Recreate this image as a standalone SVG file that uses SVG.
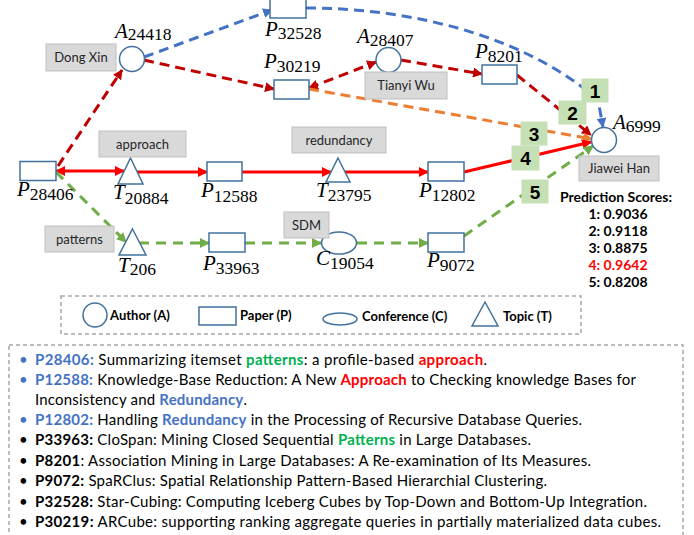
<svg xmlns="http://www.w3.org/2000/svg" width="694" height="535" viewBox="0 0 694 535">
<style>
.node{fill:#fff;stroke:#41719c;stroke-width:1.5}
.tag{fill:#d9d9d9;stroke:#bfbfbf;stroke-width:1}
.tagt{font-family:Lato,"Liberation Sans",sans-serif;font-size:13px;fill:#262626;text-anchor:middle}
.num{fill:#c5e0b4;stroke:#c5e0b4}
.numt{font-family:"Liberation Sans",Arial,sans-serif;font-weight:bold;font-size:19px;fill:#000;text-anchor:middle}
.lbl{font-family:"Liberation Serif","Times New Roman",serif;font-size:21px;fill:#000}
.it{font-style:italic}
.sub{font-size:17.5px}
.e{fill:none;stroke-width:3}
.rd{stroke:#c00000;stroke-dasharray:10,6}
.rs{stroke:#ff0000}
.bd{stroke:#4472c4;stroke-dasharray:10,6}
.od{stroke:#ed7d31;stroke-dasharray:10,6}
.gd{stroke:#70ad47;stroke-dasharray:10,7}
.leg{font-family:Lato,"Liberation Sans",sans-serif;font-weight:bold;font-size:13px;fill:#000}
.ps{font-family:Lato,"Liberation Sans",sans-serif;font-weight:bold;font-size:14px;fill:#000;text-anchor:middle}
.box{fill:none;stroke:#a6a6a6;stroke-width:1.5;stroke-dasharray:4,3}
.tx{font-family:Lato,"Liberation Sans",sans-serif;font-size:15px;fill:#000}
.b{font-weight:bold}
.bl{fill:#4472c4;font-weight:bold}
.gr{fill:#00b050;font-weight:bold}
.re{fill:#ff0000;font-weight:bold}
</style>
<defs>
<marker id="mrd" viewBox="0 0 10 10" refX="9" refY="5" markerWidth="10" markerHeight="10" markerUnits="userSpaceOnUse" orient="auto-start-reverse"><path d="M0,0 L10,5 L0,10 z" fill="#c00000"/></marker>
<marker id="mrs" viewBox="0 0 10 10" refX="9" refY="5" markerWidth="10" markerHeight="10" markerUnits="userSpaceOnUse" orient="auto-start-reverse"><path d="M0,0 L10,5 L0,10 z" fill="#ff0000"/></marker>
<marker id="mbd" viewBox="0 0 10 10" refX="9" refY="5" markerWidth="10" markerHeight="10" markerUnits="userSpaceOnUse" orient="auto"><path d="M0,0 L10,5 L0,10 z" fill="#4472c4"/></marker>
<marker id="mod" viewBox="0 0 10 10" refX="9" refY="5" markerWidth="10" markerHeight="10" markerUnits="userSpaceOnUse" orient="auto"><path d="M0,0 L10,5 L0,10 z" fill="#ed7d31"/></marker>
<marker id="mgd" viewBox="0 0 10 10" refX="9" refY="5" markerWidth="10" markerHeight="10" markerUnits="userSpaceOnUse" orient="auto"><path d="M0,0 L10,5 L0,10 z" fill="#70ad47"/></marker>
</defs>
<rect width="694" height="535" fill="#fff"/>

<g id="connectors">
<path class="e rd" d="M58,166 L122,70" marker-end="url(#mrd)"/>
<path class="e bd" d="M144,57 L272,10" marker-end="url(#mbd)"/>
<path class="e rd" d="M144,60 L274,89" marker-end="url(#mrd)"/>
<path class="e rd" d="M309,88 L376,62" marker-start="url(#mrd)" marker-end="url(#mrd)"/>
<path class="e rd" d="M401,60 L482,74" marker-end="url(#mrd)"/>
<path class="e rd" d="M517,75 L591,135" marker-end="url(#mrd)"/>
<path class="e od" d="M309,89 L592,139" marker-end="url(#mod)"/>
<path class="e bd" d="M306,8 C420,8 530,40 598,100 L603,127" marker-end="url(#mbd)"/>
<path class="e rs" d="M56,171 L124,171" marker-start="url(#mrs)" marker-end="url(#mrs)"/>
<path class="e rs" d="M137,172 L207,172" marker-end="url(#mrs)"/>
<path class="e rs" d="M242,172 L331,172" marker-end="url(#mrs)"/>
<path class="e rs" d="M345,172 L428,172" marker-end="url(#mrs)"/>
<path class="e rs" d="M464,172 L591,142" marker-end="url(#mrs)"/>
<path class="e gd" d="M56,172 L126,242" marker-end="url(#mgd)"/>
<path class="e gd" d="M139,243 L209,243" marker-end="url(#mgd)"/>
<path class="e gd" d="M245,243 L321,243" marker-end="url(#mgd)"/>
<path class="e gd" d="M357,243 L428,243" marker-end="url(#mgd)"/>
<path class="e gd" d="M464,236 L593,146" marker-end="url(#mgd)"/>
</g>

<g id="scores-boxes">
<rect class="num" x="582" y="79" width="26" height="23"/><text class="numt" x="595" y="98">1</text>
<rect class="num" x="559" y="101" width="27" height="23"/><text class="numt" x="572.5" y="120">2</text>
<rect class="num" x="521" y="122" width="26" height="23"/><text class="numt" x="534" y="141">3</text>
<rect class="num" x="512" y="146" width="27" height="24"/><text class="numt" x="525.5" y="165">4</text>
<rect class="num" x="522" y="180" width="26" height="23"/><text class="numt" x="535" y="199">5</text>
</g>

<g id="A24418"><circle class="node" cx="132" cy="59" r="12.5"/><text class="lbl" x="115" y="38"><tspan class="it">A</tspan><tspan class="sub" dy="2">24418</tspan></text>
<rect class="tag" x="46" y="44" width="70" height="27"/><text class="tagt" x="81" y="62">Dong Xin</text></g>
<g id="P32528"><rect class="node" x="270" y="-1" width="36" height="19"/><text class="lbl" x="265" y="36"><tspan class="it">P</tspan><tspan class="sub" dy="3">32528</tspan></text></g>
<g id="P30219"><rect class="node" x="274" y="80" width="35" height="19"/><text class="lbl" x="264" y="68"><tspan class="it">P</tspan><tspan class="sub" dy="4">30219</tspan></text></g>
<g id="A28407"><circle class="node" cx="388.5" cy="60" r="12.5"/><text class="lbl" x="357" y="43"><tspan class="it">A</tspan><tspan class="sub" dy="3">28407</tspan></text>
<rect class="tag" x="365" y="72" width="82" height="27"/><text class="tagt" x="406" y="90">Tianyi Wu</text></g>
<g id="P8201"><rect class="node" x="482" y="65" width="35" height="19"/><text class="lbl" x="475" y="58"><tspan class="it">P</tspan><tspan class="sub" dy="4">8201</tspan></text></g>
<g id="A6999"><circle class="node" cx="604" cy="140" r="12.5"/><text class="lbl" x="613" y="129"><tspan class="it">A</tspan><tspan class="sub" dy="3">6999</tspan></text>
<rect class="tag" x="579" y="156" width="80" height="25"/><text class="tagt" x="619" y="173">Jiawei Han</text></g>
<g id="P28406"><rect class="node" x="20" y="161.5" width="36" height="19"/><text class="lbl" x="17" y="196"><tspan class="it">P</tspan><tspan class="sub" dy="4">28406</tspan></text></g>
<g id="T20884"><polygon class="node" points="130.5,158 143,184 118,184"/><text class="lbl" x="113" y="199"><tspan class="it">T</tspan><tspan class="sub" dy="5">20884</tspan></text>
<rect class="tag" x="99" y="131" width="87" height="26"/><text class="tagt" x="142.5" y="149">approach</text></g>
<g id="P12588"><rect class="node" x="207" y="162" width="35" height="19"/><text class="lbl" x="201" y="197"><tspan class="it">P</tspan><tspan class="sub" dy="5">12588</tspan></text></g>
<g id="T23795"><polygon class="node" points="338,158 350,182 326,182"/><text class="lbl" x="316" y="197"><tspan class="it">T</tspan><tspan class="sub" dy="4">23795</tspan></text>
<rect class="tag" x="292" y="127" width="94" height="26"/><text class="tagt" x="339" y="145">redundancy</text></g>
<g id="P12802"><rect class="node" x="428" y="162" width="36" height="19"/><text class="lbl" x="419" y="197"><tspan class="it">P</tspan><tspan class="sub" dy="4">12802</tspan></text></g>
<g id="T206"><polygon class="node" points="132.5,229 146,255 119,255"/><text class="lbl" x="118" y="272"><tspan class="it">T</tspan><tspan class="sub" dy="3">206</tspan></text>
<rect class="tag" x="45" y="226" width="69" height="26"/><text class="tagt" x="79.5" y="244">patterns</text></g>
<g id="P33963"><rect class="node" x="209" y="233" width="36" height="19"/><text class="lbl" x="203" y="270"><tspan class="it">P</tspan><tspan class="sub" dy="4">33963</tspan></text></g>
<g id="C19054"><ellipse class="node" cx="339" cy="243" rx="17.5" ry="11"/><text class="lbl" x="316" y="265"><tspan class="it">C</tspan><tspan class="sub" dy="4">19054</tspan></text>
<rect class="tag" x="284" y="212" width="45" height="26"/><text class="tagt" x="306.5" y="230">SDM</text></g>
<g id="P9072"><rect class="node" x="428" y="233" width="36" height="19"/><text class="lbl" x="427" y="267"><tspan class="it">P</tspan><tspan class="sub" dy="4">9072</tspan></text></g>

<g id="prediction-scores">
<text class="ps" x="616" y="202">Prediction Scores:</text>
<text class="ps" x="618" y="219">1: 0.9036</text>
<text class="ps" x="618" y="236">2: 0.9118</text>
<text class="ps" x="618" y="253">3: 0.8875</text>
<text class="ps" x="618" y="270" fill="#ff0000" style="fill:#ff0000">4: 0.9642</text>
<text class="ps" x="618" y="287">5: 0.8208</text>
</g>

<g id="legend">
<rect class="box" x="61" y="296" width="520" height="38"/>
<circle class="node" cx="95" cy="315" r="12"/><text class="leg" x="110" y="320">Author (A)</text>
<rect class="node" x="199" y="307" width="37" height="18"/><text class="leg" x="240" y="320">Paper (P)</text>
<ellipse class="node" cx="340" cy="319" rx="17" ry="6"/><text class="leg" x="362" y="321">Conference (C)</text>
<polygon class="node" points="485,302 498,326 472,326"/><text class="leg" x="503" y="321">Topic (T)</text>
</g>

<g id="papers">
<rect class="box" x="9" y="345" width="674" height="200"/>
<text class="tx" x="19" y="365" fill="#4472c4" style="fill:#4472c4">•</text>
<text class="tx" x="19" y="385" style="fill:#4472c4">•</text>
<text class="tx" x="19" y="425" style="fill:#4472c4">•</text>
<text class="tx" x="19" y="445">•</text>
<text class="tx" x="19" y="466">•</text>
<text class="tx" x="19" y="486">•</text>
<text class="tx" x="19" y="507">•</text>
<text class="tx" x="19" y="527">•</text>
<text class="tx" x="35" y="365" textLength="452"><tspan class="bl">P28406:</tspan> Summarizing itemset <tspan class="gr">patterns</tspan>: a profile-based <tspan class="re">approach</tspan>.</text>
<text class="tx" x="35" y="385" textLength="601"><tspan class="bl">P12588:</tspan> Knowledge-Base Reduction: A New <tspan class="re">Approach</tspan> to Checking knowledge Bases for</text>
<text class="tx" x="35" y="405" textLength="212">Inconsistency and <tspan class="bl">Redundancy</tspan>.</text>
<text class="tx" x="35" y="425" textLength="547"><tspan class="bl">P12802:</tspan> Handling <tspan class="bl">Redundancy</tspan> in the Processing of Recursive Database Queries.</text>
<text class="tx" x="35" y="445" textLength="496"><tspan class="b">P33963:</tspan> CloSpan: Mining Closed Sequential <tspan class="gr">Patterns</tspan> in Large Databases.</text>
<text class="tx" x="35" y="466" textLength="556"><tspan class="b">P8201</tspan>: Association Mining in Large Databases: A Re-examination of Its Measures.</text>
<text class="tx" x="35" y="486" textLength="512"><tspan class="b">P9072:</tspan> SpaRClus: Spatial Relationship Pattern-Based Hierarchial Clustering.</text>
<text class="tx" x="35" y="507" textLength="612"><tspan class="b">P32528:</tspan> Star-Cubing: Computing Iceberg Cubes by Top-Down and Bottom-Up Integration.</text>
<text class="tx" x="35" y="527" textLength="626"><tspan class="b">P30219:</tspan> ARCube: supporting ranking aggregate queries in partially materialized data cubes.</text>
</g>
</svg>
